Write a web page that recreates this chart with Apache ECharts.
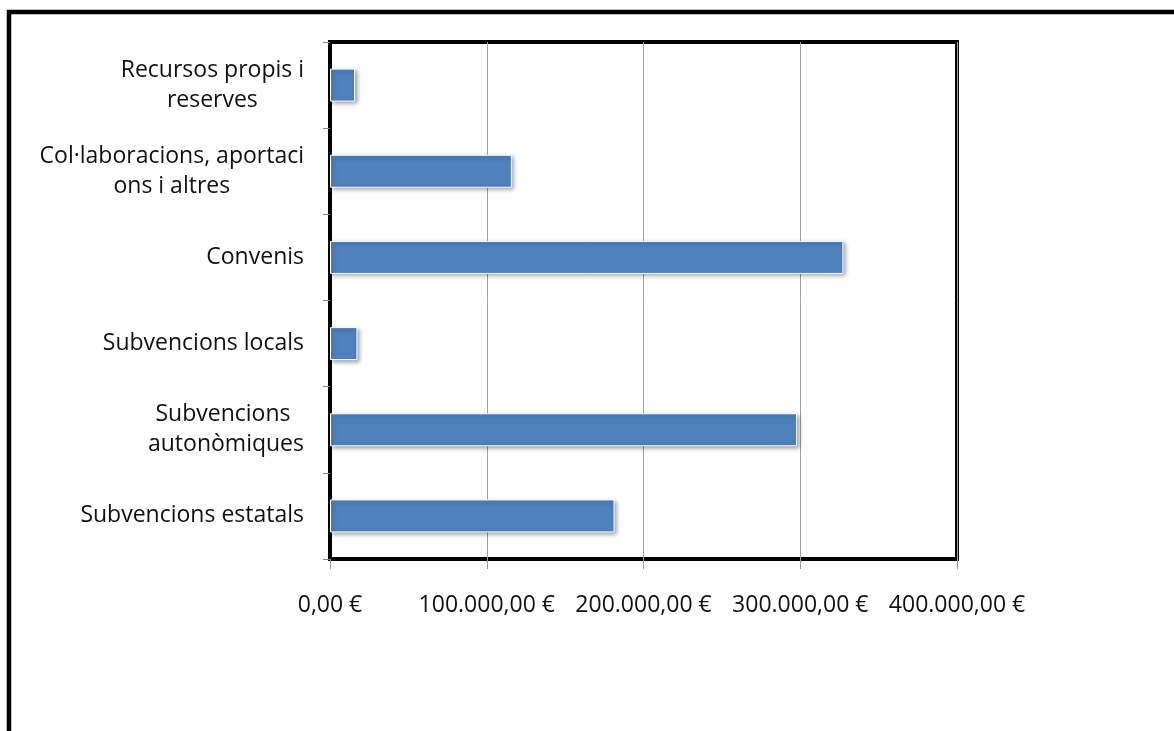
<!DOCTYPE html>
<html>
<head>
<meta charset="utf-8">
<script src="https://cdn.jsdelivr.net/npm/echarts@6/dist/echarts.min.js"></script>
<style>
html,body{margin:0;padding:0;background:#fff;}
#chart{width:1174px;height:731px;}
</style>
</head>
<body>
<div id="chart"></div>
<script>
// Categories listed top to bottom
const categories = [
  'Recursos propis i\nreserves',
  'Col·laboracions, aportaci\nons i altres',
  'Convenis',
  'Subvencions locals',
  'Subvencions \nautonòmiques',
  'Subvencions estatals'
];
const values = [16000, 116000, 327500, 17500, 298000, 181500];
const xTickLabels = ['0,00 €', '100.000,00 €', '200.000,00 €', '300.000,00 €', '400.000,00 €'];

const FONT = '"Open Sans"';
const FS = 23;

const chart = echarts.init(document.getElementById('chart'), null, { renderer: 'canvas' });
chart.setOption({
  backgroundColor: '#fff',
  animation: false,
  graphic: [{
    type: 'rect', z: 100,
    shape: { x: 9, y: 12, width: 1400, height: 1000 },
    style: { fill: 'none', stroke: '#000', lineWidth: 4.5 }
  }],
  grid: {
    left: 330, right: 217, top: 42, bottom: 172,
    show: true, borderColor: '#000', borderWidth: 4, backgroundColor: 'transparent'
  },
  xAxis: {
    type: 'value', min: 0, max: 400000, interval: 100000,
    axisLine: { show: false },
    axisTick: { show: true, length: 10, lineStyle: { color: '#999', width: 1 } },
    splitLine: { show: true, lineStyle: { color: '#a0a0a0', width: 1 } },
    axisLabel: {
      margin: 31, fontFamily: FONT, fontSize: FS, color: '#111', lineHeight: 30,
      formatter: v => xTickLabels[Math.round(v / 100000)]
    }
  },
  yAxis: {
    type: 'category', data: categories, inverse: true,
    axisLine: { show: true, lineStyle: { color: '#000', width: 3 } },
    axisTick: { show: true, length: 7, lineStyle: { color: '#888', width: 1 } },
    splitLine: { show: false },
    axisLabel: {
      margin: 26, fontFamily: FONT, fontSize: FS, color: '#111', lineHeight: 30,
      align: 'right',
      formatter: v => {
        const lines = v.split('\n');
        if (lines.length === 1) return v;
        return lines.map(l => '{c|' + l + '}').join('\n');
      },
      rich: {
        c: { align: 'center', fontFamily: FONT, fontSize: FS, lineHeight: 30, color: '#111' }
      }
    }
  },
  series: [{
    type: 'bar', data: values, barWidth: 33,
    itemStyle: {
      color: '#4f81bd', borderColor: '#fff', borderWidth: 1,
      shadowColor: 'rgba(0,0,0,0.35)', shadowBlur: 4, shadowOffsetX: 2, shadowOffsetY: 2
    }
  }]
});
</script>
</body>
</html>
